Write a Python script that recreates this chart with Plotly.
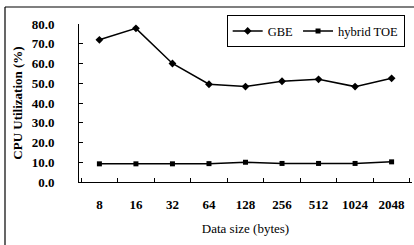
import plotly.graph_objects as go

categories = ["8", "16", "32", "64", "128", "256", "512", "1024", "2048"]
gbe = [72.0, 77.8, 60.0, 49.5, 48.3, 51.0, 52.0, 48.3, 52.5]
hybrid_toe = [9.2, 9.2, 9.2, 9.3, 10.0, 9.4, 9.4, 9.4, 10.2]
y_ticks = [0, 10, 20, 30, 40, 50, 60, 70, 80]
y_tick_text = ["%.1f" % v for v in y_ticks]

FONT = "Liberation Serif"

fig = go.Figure()
fig.add_trace(go.Scatter(
    x=categories, y=gbe, name="GBE", mode="lines+markers",
    line=dict(color="black", width=1.5),
    marker=dict(symbol="diamond", size=6, color="black"),
))
fig.add_trace(go.Scatter(
    x=categories, y=hybrid_toe, name="hybrid TOE", mode="lines+markers",
    line=dict(color="black", width=1.5),
    marker=dict(symbol="square", size=5, color="black"),
))

fig.update_layout(
    width=414, height=245,
    margin=dict(l=79, r=2, t=24, b=63, autoexpand=False),
    paper_bgcolor="white", plot_bgcolor="white",
    font=dict(family=FONT, color="black", size=13),
    showlegend=True,
    legend=dict(
        orientation="h", x=0.978, xanchor="right", y=1.055, yanchor="top",
        bordercolor="black", borderwidth=1, bgcolor="white",
        font=dict(family=FONT, size=12.5), itemwidth=30,
        tracegroupgap=0,
    ),
    xaxis=dict(
        type="category", showline=True, linecolor="black", linewidth=1,
        showgrid=False, ticks="inside", tickson="boundaries", ticklen=4,
        tickcolor="black", zeroline=False, automargin=False,
        tickfont=dict(family=FONT, size=13, weight="bold"),
        ticklabelstandoff=10,
        title=dict(text="Data size (bytes)", font=dict(family=FONT, size=13), standoff=13),
    ),
    yaxis=dict(
        range=[0, 80], tickvals=y_ticks, ticktext=y_tick_text,
        showline=True, linecolor="black", linewidth=1, showgrid=False,
        ticks="inside", ticklen=4, tickcolor="black", zeroline=False, automargin=False,
        tickfont=dict(family=FONT, size=13, weight="bold"),
        ticklabelstandoff=21,
        title=dict(text="CPU Utilization (%)", font=dict(family=FONT, size=13, weight="bold"), standoff=6),
    ),
)

# outer frame lines (left and top) of the scanned figure
fig.add_shape(type="line", xref="paper", yref="paper",
              x0=(5 - 79) / 333, x1=(5 - 79) / 333, y0=(182 - 245) / 158, y1=1 + (24 - 7) / 158,
              line=dict(color="black", width=1.2))
fig.add_shape(type="line", xref="paper", yref="paper",
              x0=(5 - 79) / 333, x1=(414 - 79) / 333, y0=1 + (24 - 7) / 158, y1=1 + (24 - 7) / 158,
              line=dict(color="black", width=1.2))

fig.write_html("out.html", config={"displayModeBar": False},
               post_script="document.body.style.margin='0';document.body.style.overflow='hidden';")
